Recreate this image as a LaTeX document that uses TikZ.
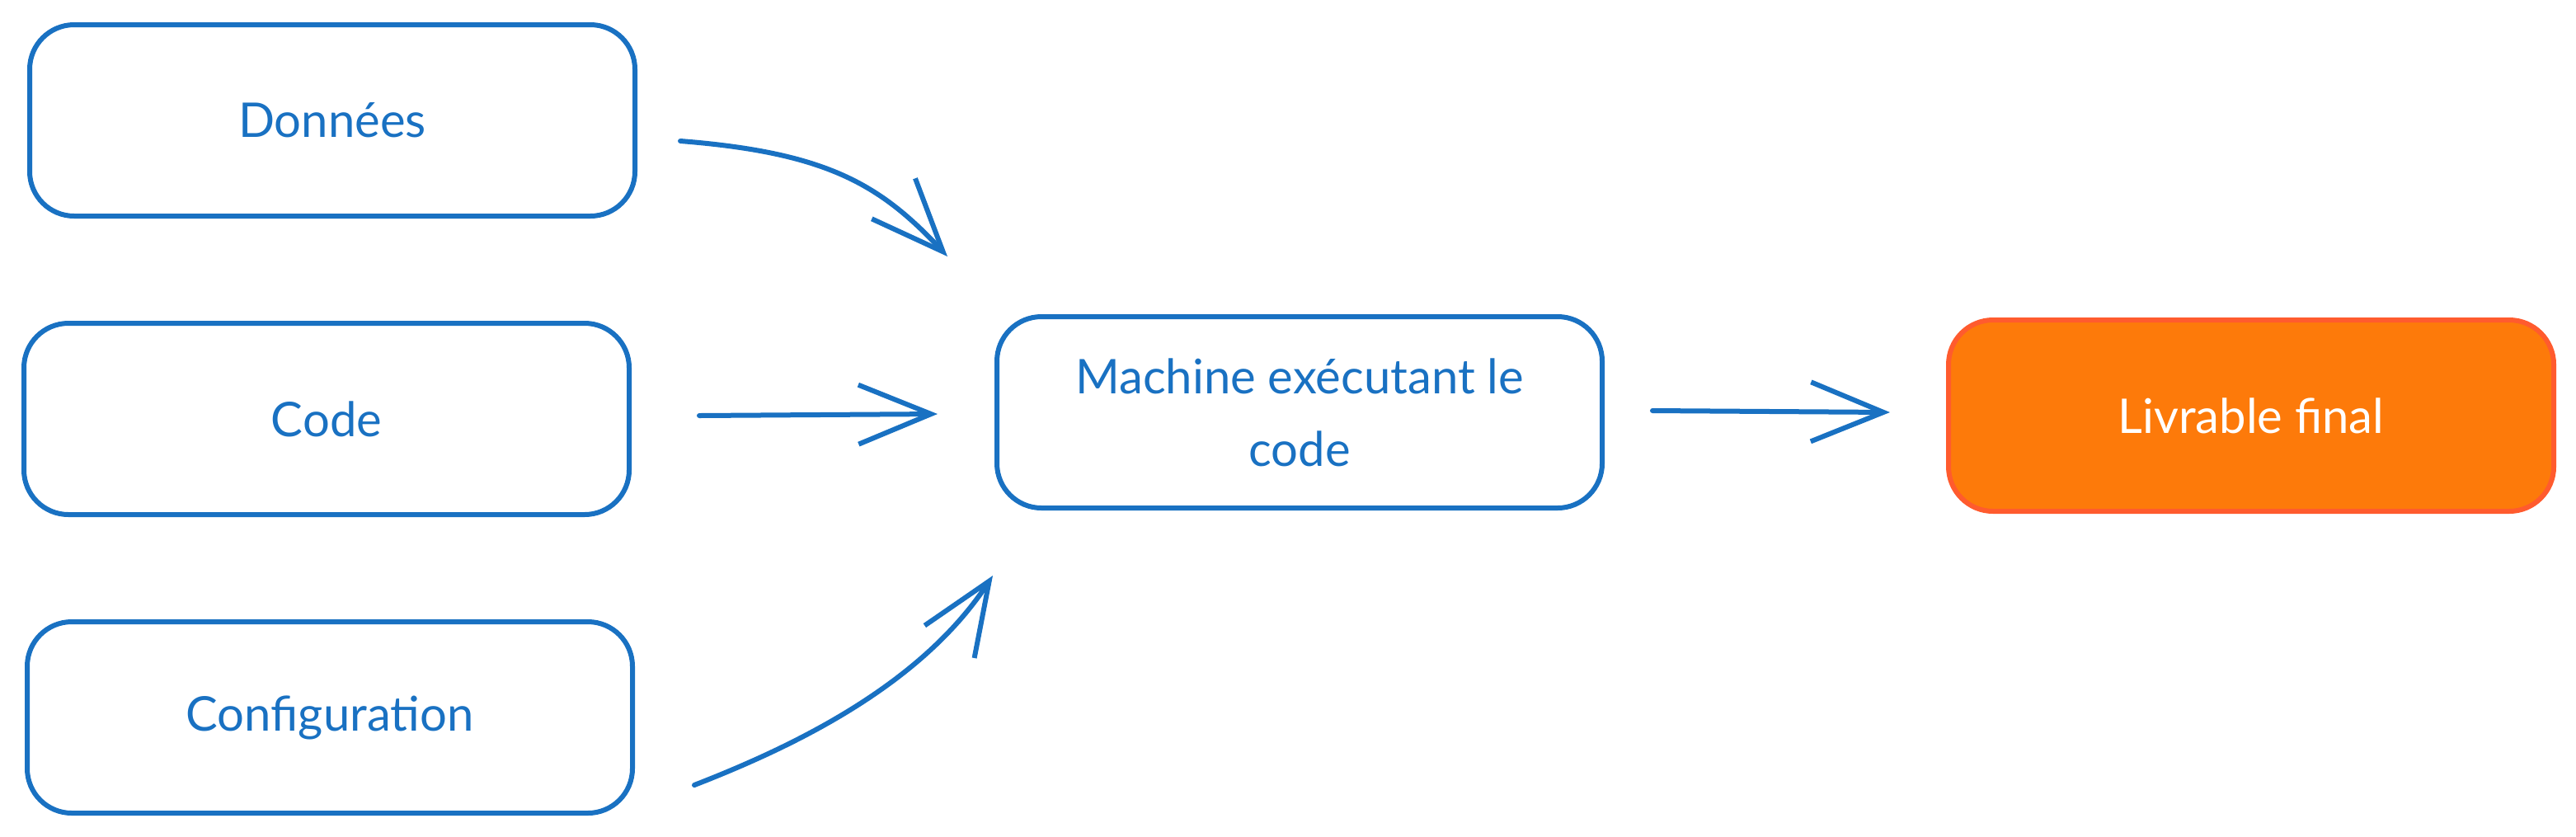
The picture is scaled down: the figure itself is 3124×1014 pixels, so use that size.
\documentclass[tikz,border=0pt]{standalone}
\usepackage{fontspec}
\setmainfont{Lato}
\usetikzlibrary{arrows.meta,calc}
\definecolor{exblue}{HTML}{1971C2}
\definecolor{exorange}{HTML}{FD7A0A}
\definecolor{exred}{HTML}{FF5B2E}
\begin{document}
\begin{tikzpicture}[x=0.5pt,y=-0.5pt,
  box/.style={draw=exblue,line width=3pt,rounded corners=27pt,minimum width=367pt,minimum height=116pt,
    text=exblue,align=center,font=\fontsize{29}{44}\selectfont},
  finalbox/.style={box,draw=exred,fill=exorange,text=white},
  arr/.style={draw=exblue,line width=3pt,line cap=round,-{Straight Barb[length=44pt,width=36pt,line width=3pt]}}]
\useasboundingbox (0,0) rectangle (3124,1014);
\node[box] (d) at (403,146) {Données};
\node[box] (c) at (396,508) {Code};
\node[box] (k) at (400,870) {Configuration};
\node[box] (m) at (1576,500) {\rule{0pt}{12pt}Machine exécutant le\\code};
\node[finalbox] (l) at (2730,504) {Livrable final};
\draw[arr] ($(d.east)+(52,25)$) .. controls ($(d.east)+(229,39)$) and ($(m.north west)+(-139,-158)$) .. ($(m.north west)+(-57,-70)$);
\draw[arr] ($(c.east)+(82,-4)$) -- ($(m.west)+(-69,2)$);
\draw[arr] ($(k.east)+(72,82)$) .. controls ($(k.east)+(193,35)$) and ($(m.south west)+(-89,212)$) .. ($(m.south west)+(-2,79)$);
\draw[arr] ($(m.east)+(58,-2)$) -- ($(l.west)+(-68,-4)$);
\end{tikzpicture}
\end{document}
